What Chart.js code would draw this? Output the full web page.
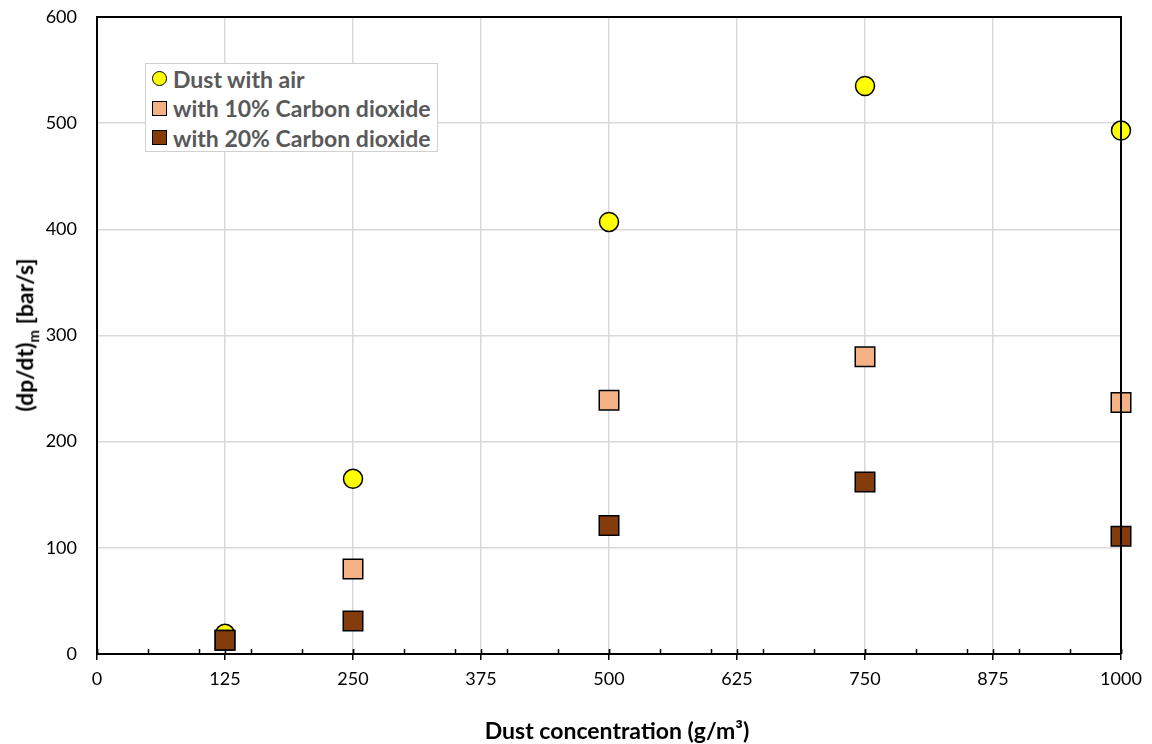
<!DOCTYPE html>
<html>
<head>
<meta charset="utf-8">
<script src="https://cdn.jsdelivr.net/npm/chart.js@4"></script>
<style>
  html, body { margin: 0; padding: 0; background: #fff; }
  #wrap { position: relative; width: 1152px; height: 744px; font-family: Lato, "Open Sans", sans-serif; }
  #yTitle {
    position: absolute; left: 26px; top: 335px;
    transform: translate(-50%, -50%) rotate(-90deg);
    white-space: nowrap; font-weight: bold; font-size: 23px; color: #000;
  }
  #yTitle sub { font-size: 15px; }
  #xTitle {
    position: absolute; left: 617px; top: 730px;
    transform: translate(-50%, -50%);
    white-space: nowrap; font-weight: bold; font-size: 23px; color: #000;
  }
  #legend {
    position: absolute; left: 145px; top: 63px; width: 293px; height: 89px;
    border: 1px solid #d0d0d0; background: #fff; box-sizing: border-box;
  }
  .row { display: flex; align-items: center; height: 29.5px; padding-left: 6px;
         font-weight: bold; font-size: 23px; color: #595959; }
  .mk { width: 15px; height: 15px; border: 1.5px solid #000; margin-right: 6px; box-sizing: border-box; flex: none; }
</style>
</head>
<body>
<div id="wrap">
  <canvas id="chart" width="1152" height="744"></canvas>
  <div id="yTitle">(dp/dt)<sub>m</sub> [bar/s]</div>
  <div id="xTitle">Dust concentration (g/m³)</div>
  <div id="legend"></div>
</div>
<script>
const concentrations = [125, 250, 500, 750, 1000];
const dustAir = [19, 165, 407, 535, 493];
const co2_10 = [13, 80, 239, 280, 237];
const co2_20 = [13, 31, 121, 162, 111];
const seriesNames = ['Dust with air', 'with 10% Carbon dioxide', 'with 20% Carbon dioxide'];
const seriesColors = ['#FFFF00', '#F4B183', '#843C0C'];
const xMinorStep = 50;

function toPoints(values) {
    return concentrations.map((x, i) => ({ x: x, y: values[i] }));
}

// frame on top/right plus minor ticks on the x axis
const framePlugin = {
    id: 'frame',
    afterDatasetsDraw(chart) {
        const { ctx, chartArea: a, scales } = chart;
        ctx.save();
        ctx.strokeStyle = '#000';
        ctx.lineWidth = 2;
        ctx.beginPath();
        ctx.moveTo(a.left, a.top);
        ctx.lineTo(a.right, a.top);
        ctx.lineTo(a.right, a.bottom);
        ctx.stroke();
        ctx.lineWidth = 1.5;
        const x = scales.x;
        for (let v = 0; v <= 1000; v += xMinorStep) {
            const px = Math.round(x.getPixelForValue(v)) + 0.5;
            ctx.beginPath();
            ctx.moveTo(px, a.bottom);
            ctx.lineTo(px, a.bottom - 5);
            ctx.stroke();
        }
        for (let v = 0; v <= 1000; v += 125) {
            const px = Math.round(x.getPixelForValue(v)) + 0.5;
            ctx.beginPath();
            ctx.moveTo(px, a.bottom);
            ctx.lineTo(px, a.bottom - 5);
            ctx.stroke();
        }
        ctx.restore();
    }
};

const common = { borderColor: '#000', borderWidth: 1.5, showLine: false, clip: false };

new Chart(document.getElementById('chart').getContext('2d'), {
    type: 'scatter',
    data: {
        datasets: [
            { ...common, label: seriesNames[0], data: toPoints(dustAir), backgroundColor: seriesColors[0],
              pointStyle: 'circle', pointRadius: 9.5, pointHoverRadius: 9.5, order: 3 },
            { ...common, label: seriesNames[1], data: toPoints(co2_10), backgroundColor: seriesColors[1],
              pointStyle: 'rect', pointRadius: 13.8, pointHoverRadius: 13.8, order: 2 },
            { ...common, label: seriesNames[2], data: toPoints(co2_20), backgroundColor: seriesColors[2],
              pointStyle: 'rect', pointRadius: 13.8, pointHoverRadius: 13.8, order: 1 }
        ]
    },
    options: {
        responsive: false,
        animation: false,
        layout: { padding: { left: 0, top: 17, right: 31, bottom: 0 } },
        plugins: {
            legend: { display: false },
            tooltip: { enabled: false }
        },
        scales: {
            x: {
                type: 'linear', min: 0, max: 1000,
                afterFit: s => { s.height = 90; },
                ticks: { stepSize: 125, color: '#000', padding: 8, font: { family: 'Lato', size: 18 },
                         callback: v => String(v) },
                grid: { color: '#d9d9d9', lineWidth: 1.5, tickLength: 6, tickColor: '#000', tickWidth: 1.5 },
                border: { color: '#000', width: 2 }
            },
            y: {
                min: 0, max: 600,
                afterFit: s => { s.width = 97; s.paddingTop = 0; s.paddingBottom = 0; },
                ticks: { stepSize: 100, color: '#000', padding: 20, font: { family: 'Lato', size: 18 } },
                grid: { color: '#d9d9d9', lineWidth: 1.5, drawTicks: false },
                border: { color: '#000', width: 2 }
            }
        }
    },
    plugins: [framePlugin]
});

const legendDiv = document.getElementById('legend');
seriesNames.forEach((name, i) => {
    const row = document.createElement('div');
    row.className = 'row';
    const mk = document.createElement('span');
    mk.className = 'mk';
    mk.style.background = seriesColors[i];
    if (i === 0) mk.style.borderRadius = '50%';
    row.appendChild(mk);
    row.appendChild(document.createTextNode(name));
    legendDiv.appendChild(row);
});
</script>
</body>
</html>
